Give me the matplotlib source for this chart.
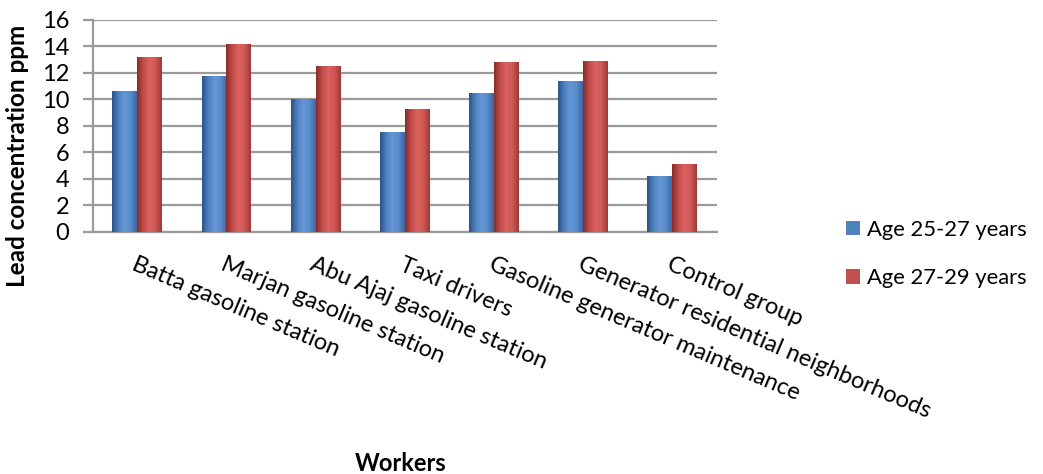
import numpy as np
import matplotlib
matplotlib.use("Agg")
from matplotlib import pyplot as plt
from matplotlib.colors import LinearSegmentedColormap
from matplotlib.patches import Patch

plt.rcParams['font.family'] = ['Lato', 'DejaVu Sans']

#
# Lead concentration by worker group and age band
#
categories = ["Batta gasoline station", "Marjan gasoline station",
              "Abu Ajaj gasoline station", "Taxi drivers",
              "Gasoline generator maintenance",
              "Generator residential neighborhoods", "Control group"]
age_25_27 = [10.65, 11.75, 10.05, 7.5, 10.5, 11.35, 4.2]
age_27_29 = [13.2, 14.2, 12.5, 9.25, 12.85, 12.9, 5.15]
series_names = ["Age 25-27 years", "Age 27-29 years"]
yticks = [0, 2, 4, 6, 8, 10, 12, 14, 16]

blue = "#4F81BD"
red = "#C0504D"
# cylinder-like shading across each bar
blue_cmap = LinearSegmentedColormap.from_list(
    "blue_shade", ["#2C5486", "#4E80C0", "#6497D6", "#5A8CCB", "#3A68A2"])
red_cmap = LinearSegmentedColormap.from_list(
    "red_shade", ["#8A2C2A", "#C04D4A", "#DC625E", "#CF5855", "#9E3936"])

fs = 17

fig = plt.figure(figsize=(10.43, 4.74), dpi=100)
ax = fig.add_axes([0.089, 0.511, 0.598, 0.447])

x = np.arange(len(categories))
w = 0.28
bars_a = ax.bar(x - w / 2, age_25_27, w, color="none", zorder=3)
bars_b = ax.bar(x + w / 2, age_27_29, w, color="none", zorder=3)

grad = np.linspace(0, 1, 64).reshape(1, -1)
for bars, cmap in ((bars_a, blue_cmap), (bars_b, red_cmap)):
    for b in bars:
        x0, y0 = b.get_x(), b.get_y()
        im = ax.imshow(grad, cmap=cmap, aspect="auto", zorder=3,
                       extent=(x0, x0 + b.get_width(), y0, y0 + b.get_height()))
        im.set_clip_path(b)

ax.set_xlim(-0.5, len(categories) - 0.5)
ax.set_ylim(0, 16)
ax.set_yticks(yticks)
ax.yaxis.grid(True, color="#9A9A9A", linewidth=1.6, zorder=1)
ax.set_axisbelow(True)
for s in ("top", "right"):
    ax.spines[s].set_visible(False)
for s in ("left", "bottom"):
    ax.spines[s].set_color("#9A9A9A")
    ax.spines[s].set_linewidth(1.6)
ax.tick_params(axis="y", length=7, width=1.6, color="#9A9A9A",
               labelsize=fs, pad=10)
ax.tick_params(axis="x", length=0)

ax.set_xticks(x)
ax.set_xticklabels(categories, rotation=-23, rotation_mode="anchor",
                   ha="left", va="top", fontsize=fs)
for lbl in ax.get_xticklabels():
    lbl.set_x(lbl.get_position()[0] - 0.08)
ax.tick_params(axis="x", pad=16)

ax.set_ylabel("Lead concentration ppm", fontsize=17.5, fontweight="bold",
              va="center")
ax.yaxis.set_label_coords(-0.12, 0.36)
fig.text(0.384, 0.023, "Workers", fontsize=fs, fontweight="bold",
         ha="center", va="center")

handles = [Patch(facecolor=blue, edgecolor="none"),
           Patch(facecolor=red, edgecolor="none")]
fig.legend(handles, series_names, loc="center left",
           bbox_to_anchor=(0.811, 0.464), frameon=False, fontsize=15.8,
           handlelength=0.65, handleheight=0.65, handletextpad=0.3,
           labelspacing=1.3, borderpad=0, borderaxespad=0)

fig.savefig("out.png", dpi=100)
